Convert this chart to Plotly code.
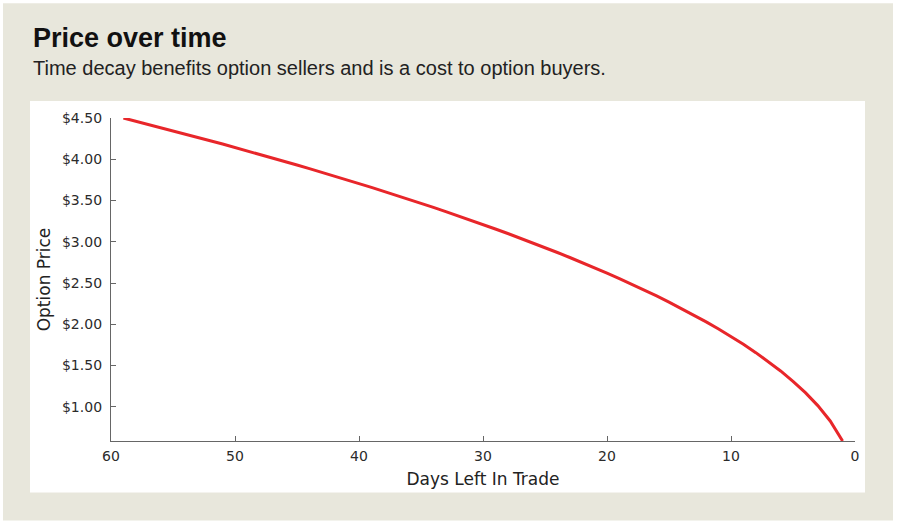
import plotly.graph_objects as go

# ---- data ----
days = [59, 58, 57, 56, 55, 54, 53, 52, 51, 50, 49, 48, 47, 46, 45, 44, 43, 42, 41, 40,
        39, 38, 37, 36, 35, 34, 33, 32, 31, 30, 29, 28, 27, 26, 25, 24, 23, 22, 21, 20,
        19, 18, 17, 16, 15, 14, 13, 12, 11, 10, 9, 8, 7, 6, 5, 4, 3, 2, 1]
option_price = [4.501, 4.463, 4.424, 4.385, 4.346, 4.306, 4.266, 4.226, 4.185, 4.144,
                4.102, 4.060, 4.017, 3.974, 3.931, 3.887, 3.843, 3.798, 3.752, 3.706,
                3.660, 3.612, 3.565, 3.516, 3.467, 3.417, 3.366, 3.315, 3.263, 3.210,
                3.156, 3.101, 3.045, 2.988, 2.930, 2.871, 2.810, 2.749, 2.685, 2.621,
                2.554, 2.486, 2.416, 2.344, 2.270, 2.193, 2.113, 2.030, 1.944, 1.853,
                1.758, 1.657, 1.550, 1.435, 1.310, 1.172, 1.015, 0.829, 0.586]
x_ticks = [60, 50, 40, 30, 20, 10, 0]
y_ticks = [1.0, 1.5, 2.0, 2.5, 3.0, 3.5, 4.0, 4.5]
y_tick_labels = ["$1.00", "$1.50", "$2.00", "$2.50", "$3.00", "$3.50", "$4.00", "$4.50"]

title_text = "Price over time"
subtitle_text = "Time decay benefits option sellers and is a cost to option buyers."

# ---- layout geometry (pixels) ----
W, H = 900, 524
L, R, T, B = 111, 855, 118, 441.5
pw, ph = R - L, B - T

def px(x):
    return (x - L) / pw

def py(y):
    return (B - y) / ph

BEIGE = "#e8e7dc"
AXIS = "#666666"
TXT = "#2b2b2b"

fig = go.Figure()
fig.add_trace(go.Scatter(
    x=days, y=option_price, mode="lines",
    line=dict(color="#e8262a", width=3),
    hoverinfo="skip", showlegend=False,
))

shapes = [
    dict(type="rect", xref="paper", yref="paper", layer="below",
         x0=px(3), x1=px(893), y0=py(521), y1=py(3),
         fillcolor=BEIGE, line=dict(width=0)),
    dict(type="rect", xref="paper", yref="paper", layer="below",
         x0=px(30), x1=px(865), y0=py(493), y1=py(101),
         fillcolor="white", line=dict(width=0)),
]

annotations = [
    dict(text="<b>" + title_text + "</b>", xref="paper", yref="paper",
         x=px(31), y=py(38), xanchor="left", yanchor="middle", showarrow=False,
         font=dict(family="Liberation Sans", size=27, color="#111111")),
    dict(text=subtitle_text, xref="paper", yref="paper",
         x=px(31), y=py(68), xanchor="left", yanchor="middle", showarrow=False,
         font=dict(family="Liberation Sans", size=20, color="#222222")),
]

fig.update_layout(
    width=W, height=H,
    margin=dict(l=L, r=W - R, t=T, b=H - B, pad=0),
    paper_bgcolor="white", plot_bgcolor="rgba(0,0,0,0)",
    shapes=shapes, annotations=annotations,
    font=dict(family="DejaVu Sans", size=14, color=TXT),
    xaxis=dict(
        range=[60, 0], tickvals=x_ticks, ticktext=[str(v) for v in x_ticks],
        showgrid=False, zeroline=False, showline=True, linecolor=AXIS, linewidth=1.3,
        ticks="inside", ticklen=5, tickwidth=1.2, tickcolor=AXIS,
        ticklabelstandoff=2,
        tickfont=dict(family="DejaVu Sans", size=14, color=TXT),
        title=dict(text="Days Left In Trade", standoff=10,
                   font=dict(family="DejaVu Sans", size=17, color="#222222")),
    ),
    yaxis=dict(
        range=[0.586, 4.501], tickvals=y_ticks, ticktext=y_tick_labels,
        showgrid=False, zeroline=False, showline=True, linecolor=AXIS, linewidth=1.3,
        ticks="inside", ticklen=5, tickwidth=1.2, tickcolor=AXIS,
        ticklabelstandoff=5,
        tickfont=dict(family="DejaVu Sans", size=14, color=TXT),
        title=dict(text="Option Price", standoff=7,
                   font=dict(family="DejaVu Sans", size=17, color="#222222")),
    ),
)

fig.write_html("out.html", config={"displayModeBar": False},
               post_script="document.body.style.margin='0';document.body.style.padding='0';")
